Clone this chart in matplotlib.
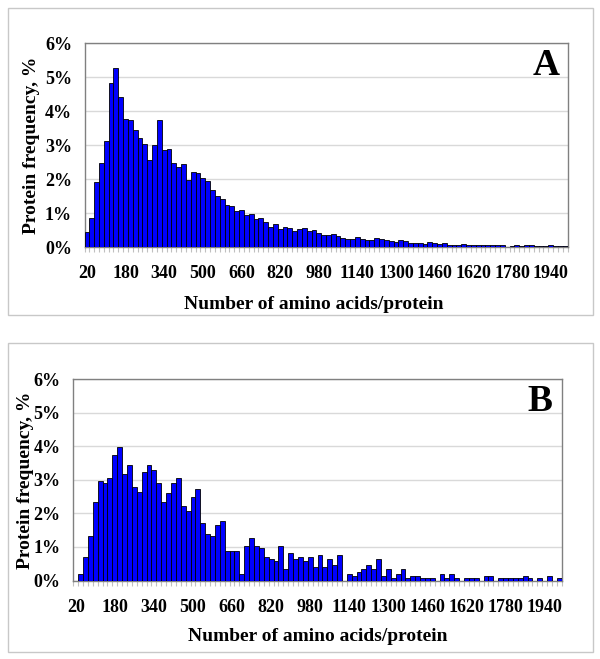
import matplotlib
matplotlib.use("Agg")
import matplotlib.pyplot as plt
from matplotlib.patches import Rectangle

# bins of 20 amino acids (20 ... 2000)
aa_length = list(range(20, 2001, 20))

# protein frequency, %  (panel A)
freq_a = [
    0.43, 0.86, 1.91, 2.46, 3.11, 4.83, 5.27, 4.42, 3.76, 3.75,
    3.44, 3.20, 3.03, 2.56, 3.00, 3.75, 2.86, 2.90, 2.48, 2.35,
    2.44, 1.97, 2.22, 2.18, 2.04, 1.94, 1.67, 1.50, 1.40, 1.25,
    1.22, 1.05, 1.09, 0.93, 0.97, 0.82, 0.84, 0.74, 0.60, 0.69,
    0.53, 0.60, 0.55, 0.47, 0.52, 0.57, 0.47, 0.49, 0.41, 0.34,
    0.34, 0.38, 0.33, 0.27, 0.25, 0.25, 0.28, 0.24, 0.22, 0.22,
    0.26, 0.23, 0.21, 0.19, 0.15, 0.21, 0.17, 0.13, 0.13, 0.13,
    0.09, 0.15, 0.13, 0.09, 0.11, 0.05, 0.05, 0.05, 0.10, 0.05,
    0.05, 0.05, 0.06, 0.07, 0.07, 0.07, 0.07, 0.01, 0.03, 0.05,
    0.03, 0.05, 0.05, 0.03, 0.03, 0.03, 0.05, 0.03, 0.03, 0.03,
]

# protein frequency, %  (panel B)
freq_b = [
    0.00, 0.19, 0.70, 1.33, 2.34, 2.98, 2.92, 3.05, 3.73, 3.98,
    3.17, 3.43, 2.80, 2.65, 3.23, 3.43, 3.29, 2.92, 2.34, 2.60,
    2.92, 3.05, 2.23, 2.08, 2.48, 2.74, 1.72, 1.40, 1.34, 1.66,
    1.78, 0.88, 0.88, 0.88, 0.19, 1.02, 1.26, 1.02, 0.96, 0.69,
    0.64, 0.58, 1.02, 0.33, 0.81, 0.64, 0.69, 0.57, 0.69, 0.39,
    0.75, 0.39, 0.64, 0.45, 0.75, 0.00, 0.19, 0.12, 0.25, 0.33,
    0.45, 0.33, 0.64, 0.12, 0.33, 0.06, 0.19, 0.33, 0.06, 0.12,
    0.12, 0.06, 0.06, 0.06, 0.00, 0.18, 0.06, 0.18, 0.06, 0.00,
    0.06, 0.06, 0.06, 0.00, 0.12, 0.12, 0.00, 0.06, 0.06, 0.06,
    0.06, 0.06, 0.12, 0.06, 0.00, 0.06, 0.00, 0.12, 0.00, 0.06,
]

tick_values = [20, 180, 340, 500, 660, 820, 980, 1140, 1300, 1460, 1620, 1780, 1940]
y_ticks = [0, 1, 2, 3, 4, 5, 6]

plt.rcParams["font.family"] = ["Liberation Serif", "DejaVu Serif"]
plt.rcParams["font.weight"] = "bold"

W, H = 600, 659
fig = plt.figure(figsize=(W / 100, H / 100), dpi=100)


def px_rect(left, top, right, bottom):
    # pixel box -> figure fraction [l, b, w, h]
    return [left / W, 1 - bottom / H, (right - left) / W, (bottom - top) / H]


def draw_panel(ax_box, frame_box, values, letter, xlabel_x, ylabel_x):
    l, t, r, b = frame_box
    fig.patches.append(Rectangle((l / W, 1 - b / H), (r - l) / W, (b - t) / H,
                                 transform=fig.transFigure, fill=False,
                                 edgecolor="#c8c8c8", linewidth=1.0))
    ax = fig.add_axes(px_rect(*ax_box))
    ax.bar(aa_length, values, width=20, color="#0000ff",
           edgecolor="black", linewidth=0.6, zorder=3)
    ax.set_xlim(10, 2010)
    ax.set_ylim(0, 6)
    ax.set_yticks(y_ticks)
    ax.set_yticklabels([f"{v}%" for v in y_ticks])
    ax.yaxis.grid(True, color="#d9d9d9", linewidth=1.0, zorder=0)
    ax.set_axisbelow(True)

    ax.set_xticks(tick_values)
    ax.set_xticklabels([str(v) for v in tick_values])
    ax.set_xticks([a - 10 for a in aa_length] + [2010], minor=True)
    ax.tick_params(axis="x", which="major", length=0, pad=13, labelsize=13)
    ax.tick_params(axis="x", which="minor", length=3.5, color="#c0c0c0", width=0.8)
    ax.tick_params(axis="y", length=0, pad=9, labelsize=13)
    for lab in ax.get_xticklabels() + ax.get_yticklabels():
        lab.set_fontweight("bold")

    for s in ax.spines.values():
        s.set_color("#808080")
        s.set_linewidth(1.0)

    ax.set_xlabel("Number of amino acids/protein", fontsize=14,
                  fontweight="bold", va="center")
    ax.set_ylabel("Protein frequency, %", fontsize=14,
                  fontweight="bold", va="center")
    ax.xaxis.set_label_coords(xlabel_x, -0.28)
    ax.yaxis.set_label_coords(ylabel_x, 0.5)

    ax.text(0.955, 0.89, letter, transform=ax.transAxes, fontsize=27,
            fontweight="bold", ha="center", va="center")
    return ax


draw_panel((84.5, 43.3, 567.5, 247), (8, 8, 593, 315), freq_a, "A",
           0.475, -0.11)
draw_panel((73.3, 379.3, 561.7, 580.5), (8, 343, 593, 652), freq_b, "B",
           0.5, -0.097)

fig.savefig("out.png", dpi=100)
